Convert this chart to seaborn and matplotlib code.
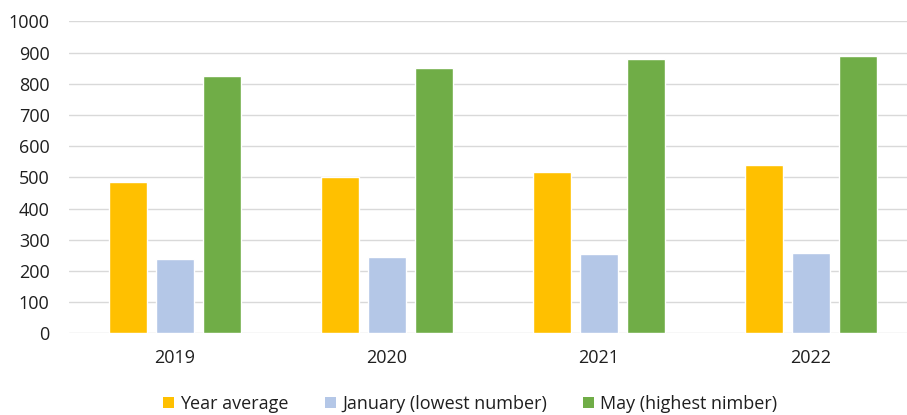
import matplotlib
matplotlib.use("Agg")
import matplotlib.pyplot as plt
from matplotlib.patches import Patch
import seaborn as sns
import pandas as pd

years = ["2019", "2020", "2021", "2022"]
series_names = ["Year average", "January (lowest number)", "May (highest nimber)"]
year_average = [484, 500, 516, 540]
january_lowest = [237, 246, 254, 258]
may_highest = [825, 850, 880, 889]
y_ticks = [0, 100, 200, 300, 400, 500, 600, 700, 800, 900, 1000]
colors = ["#FFC000", "#B4C7E7", "#70AD47"]

rows = []
for name, vals in zip(series_names, [year_average, january_lowest, may_highest]):
    for yr, v in zip(years, vals):
        rows.append({"Year": yr, "Series": name, "Value": v})
df = pd.DataFrame(rows)

sns.set_theme(style="white")
plt.rcParams["font.family"] = ["Open Sans", "DejaVu Sans"]
text_color = "#1f1f1f"
fs = 13

W, H = 907, 415
fig = plt.figure(figsize=(W / 100, H / 100), dpi=100)
left, right, bottom, top = 69, 917, 333.3, 21.5
ax = fig.add_axes([left / W, (H - bottom) / H, (right - left) / W, (bottom - top) / H])

sns.barplot(data=df, x="Year", y="Value", hue="Series", order=years,
            hue_order=series_names, palette=colors, width=0.665, gap=0.2,
            saturation=1, errorbar=None, ax=ax, legend=False, zorder=3)

ax.set_xlim(-0.5, 3.5)
ax.set_ylim(0, 1000)
ax.set_yticks(y_ticks)
ax.yaxis.grid(True, color="#D9D9D9", linewidth=1.0, zorder=0)
ax.set_axisbelow(True)
for s in ax.spines.values():
    s.set_visible(False)
ax.set_xlabel("")
ax.set_ylabel("")
ax.tick_params(axis="y", length=0, pad=14, labelsize=fs, labelcolor=text_color)
ax.tick_params(axis="x", length=0, pad=11, labelsize=fs, labelcolor=text_color)

handles = [Patch(facecolor=c, edgecolor="none", label=n) for c, n in zip(colors, series_names)]
fig.legend(handles=handles, loc="center", bbox_to_anchor=(470 / W, 11 / H), ncol=3,
           frameon=False, fontsize=fs, handlelength=0.62, handleheight=0.62,
           handletextpad=0.34, columnspacing=2.0, labelcolor=text_color,
           borderaxespad=0, borderpad=0)

fig.savefig("out.png", dpi=100)
